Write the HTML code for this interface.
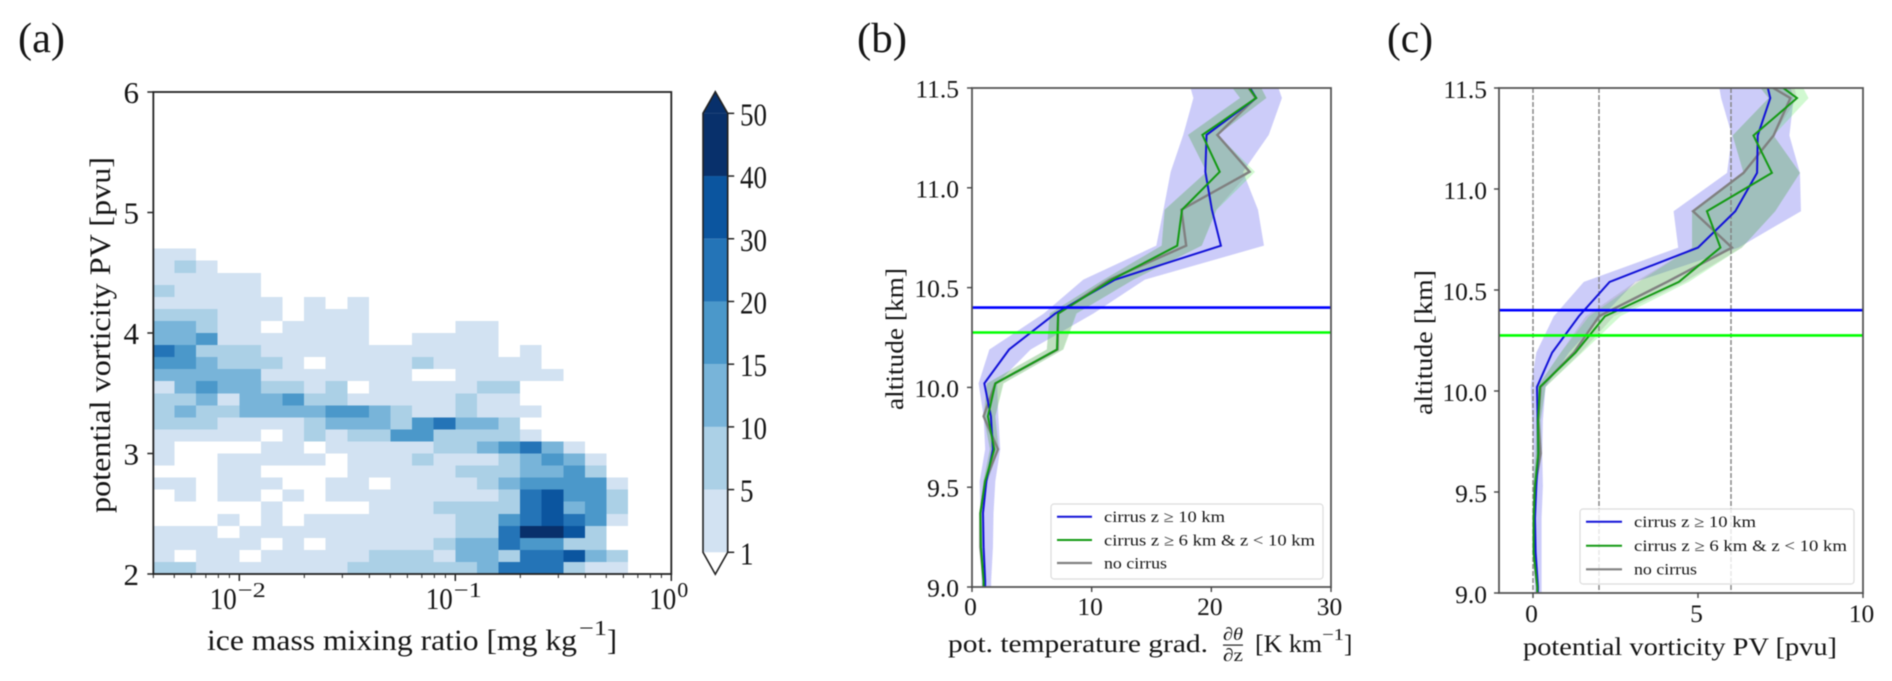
<!DOCTYPE html>
<html lang="en">
<head>
<meta charset="utf-8">
<title>Cirrus profiles</title>
<style>
html,body{margin:0;padding:0;background:#fff;width:1892px;height:681px;overflow:hidden}
svg{display:block;filter:blur(.45px)}
text{font-family:"Liberation Serif",serif;fill:#151515}
</style>
</head>
<body>
<svg id="fig" xmlns="http://www.w3.org/2000/svg" width="1892" height="681" viewBox="0 0 1892 681">
  <defs>
    <clipPath id="clip-b"><rect x="972" y="88" width="359" height="499"/></clipPath>
    <clipPath id="clip-c"><rect x="1499" y="88" width="364" height="505"/></clipPath>
  </defs>
  <text x="18" y="52" font-size="42" textLength="47" lengthAdjust="spacingAndGlyphs">(a)</text>
  <text x="857" y="52" font-size="42" textLength="50" lengthAdjust="spacingAndGlyphs">(b)</text>
  <text x="1387" y="52" font-size="42" textLength="46" lengthAdjust="spacingAndGlyphs">(c)</text>

  <g id="heatmap" shape-rendering="crispEdges"></g>
  <g id="axes-a"></g>
  <g id="colorbar"></g>

  <text transform="translate(110,513) rotate(-90)" font-size="30" textLength="356" lengthAdjust="spacingAndGlyphs">potential vorticity PV [pvu]</text>
  <g>
    <text x="207" y="650" font-size="30" textLength="370" lengthAdjust="spacingAndGlyphs">ice mass mixing ratio [mg kg</text>
    <text x="579" y="635" font-size="21" textLength="28" lengthAdjust="spacingAndGlyphs">−1</text>
    <text x="607" y="650" font-size="30">]</text>
  </g>

  <g id="plot-b" clip-path="url(#clip-b)"></g>
  <g id="axes-b"></g>
  <text transform="translate(903,410) rotate(-90)" font-size="25" textLength="142" lengthAdjust="spacingAndGlyphs">altitude [km]</text>
  <g>
    <text x="948" y="652" font-size="25" textLength="260" lengthAdjust="spacingAndGlyphs">pot. temperature grad.</text>
    <text x="1223" y="640" font-size="18" font-style="italic" textLength="20" lengthAdjust="spacingAndGlyphs">∂θ</text>
    <rect x="1223" y="644.5" width="20" height="1.2" fill="#222"/>
    <text x="1223" y="661" font-size="18" textLength="20" lengthAdjust="spacingAndGlyphs">∂z</text>
    <text x="1255" y="652" font-size="25" textLength="67" lengthAdjust="spacingAndGlyphs">[K km</text>
    <text x="1322" y="640" font-size="17" textLength="22" lengthAdjust="spacingAndGlyphs">−1</text>
    <text x="1344" y="652" font-size="25">]</text>
  </g>
  <g>
    <rect x="1051" y="504" width="272" height="75" rx="3" fill="#fff" fill-opacity=".8" stroke="#dcdcdc" stroke-width="1.2"/>
    <line x1="1057" x2="1092" y1="516.7" y2="516.7" stroke="#1212d8" stroke-width="2"/>
    <text x="1104" y="522" font-size="15.5" fill="#333" textLength="121" lengthAdjust="spacingAndGlyphs">cirrus z ≥ 10 km</text>
    <line x1="1057" x2="1092" y1="540" y2="540" stroke="#149a14" stroke-width="2"/>
    <text x="1104" y="545.5" font-size="15.5" fill="#333" textLength="211" lengthAdjust="spacingAndGlyphs">cirrus z ≥ 6 km &amp; z &lt; 10 km</text>
    <line x1="1057" x2="1092" y1="563" y2="563" stroke="#808080" stroke-width="2.2"/>
    <text x="1104" y="568.5" font-size="15.5" fill="#333" textLength="63" lengthAdjust="spacingAndGlyphs">no cirrus</text>
  </g>

  <g id="plot-c" clip-path="url(#clip-c)"></g>
  <g id="axes-c"></g>
  <text transform="translate(1432,415) rotate(-90)" font-size="25" textLength="145" lengthAdjust="spacingAndGlyphs">altitude [km]</text>
  <text x="1523" y="655" font-size="25" textLength="314" lengthAdjust="spacingAndGlyphs">potential vorticity PV [pvu]</text>
  <g>
    <rect x="1580" y="509" width="274" height="75" rx="3" fill="#fff" fill-opacity=".8" stroke="#dcdcdc" stroke-width="1.2"/>
    <line x1="1586" x2="1622" y1="521.7" y2="521.7" stroke="#1212d8" stroke-width="2"/>
    <text x="1634" y="527" font-size="15.5" fill="#333" textLength="122" lengthAdjust="spacingAndGlyphs">cirrus z ≥ 10 km</text>
    <line x1="1586" x2="1622" y1="545.7" y2="545.7" stroke="#149a14" stroke-width="2"/>
    <text x="1634" y="551" font-size="15.5" fill="#333" textLength="213" lengthAdjust="spacingAndGlyphs">cirrus z ≥ 6 km &amp; z &lt; 10 km</text>
    <line x1="1586" x2="1622" y1="569.3" y2="569.3" stroke="#808080" stroke-width="2.2"/>
    <text x="1634" y="574.5" font-size="15.5" fill="#333" textLength="63" lengthAdjust="spacingAndGlyphs">no cirrus</text>
  </g>
</svg>
<script>
/* ---------- panel (a) data ---------- */
const pvBinStart = 2.0;
const pvBinStep = 0.1;
const logIceBinStart = -2.4;
const logIceBinStep = 0.1;
/* counts per bin; first row is PV 2.0-2.1, columns run along log ice mass */
const counts = [
[7,7,3,3,3,3,3,3,3,7,7,7,7,7,7,12,25,25,25,7,3,3],
[3,0,3,3,0,3,3,3,3,3,7,7,7,3,12,12,7,25,25,35,12,7],
[3,3,3,3,3,0,3,0,3,3,3,3,3,7,12,12,25,17,17,7,7],
[3,3,3,0,3,3,3,3,3,3,3,3,3,3,7,7,25,45,45,35,7],
[0,0,0,3,0,3,0,3,3,3,3,3,3,3,7,7,17,25,35,25,17,3],
[0,0,0,0,0,3,0,0,0,0,3,3,3,7,7,7,7,25,35,12,17,7],
[0,3,0,3,3,0,3,0,3,3,3,3,3,3,3,3,7,25,35,17,17,7],
[3,3,0,3,3,3,0,0,3,3,0,3,3,3,3,7,12,17,17,17,17,3],
[0,0,0,3,3,0,0,0,0,3,3,3,3,3,7,7,7,12,12,17,7],
[3,0,0,3,3,3,3,3,0,3,3,3,7,3,3,3,7,12,17,12,3],
[3,0,0,0,0,3,3,0,3,3,3,3,3,7,7,12,17,25,12,3],
[3,3,3,3,3,0,3,7,3,7,7,17,17,7,7,7,7,3],
[7,7,7,3,3,3,3,7,12,12,12,7,17,25,12,12,7],
[7,12,7,7,12,12,12,12,17,17,12,7,3,3,7,3,3,3],
[7,7,12,3,12,12,17,7,7,3,3,3,3,3,7,3,3],
[3,12,17,12,12,7,7,3,7,0,3,3,3,3,3,7,7],
[12,12,12,12,12,3,3,3,3,3,3,3,0,0,3,3,3,3,3],
[17,17,12,7,7,7,3,0,3,3,3,3,7,3,3,3,3,3],
[25,17,7,7,7,3,3,3,3,3,3,3,3,3,3,3,0,3],
[12,12,17,3,3,3,3,3,3,3,0,0,3,3,3,3],
[12,12,7,3,3,0,3,3,3,3,0,0,0,0,3,3],
[7,7,7,3,3,3,0,3,3,3],
[3,3,3,3,3,3,0,3,0,3],
[7,3,3,3,3],
[3,3,3,3,3],
[3,7,3],
[3,3]
];
const colorBounds = [1,5,10,15,20,30,40,50];
const colorLevels = ['#d2e2f2','#abd0e6','#78b4d9','#4b98ca','#2474b7','#0b559f','#08306b'];
const pvTicks = [2,3,4,5,6];
const iceAxisMin = -2.398;
const iceMajorExponents = [-2,-1,0];
const iceMinorFactors = [2,3,4,5,6,7,8,9];
const iceMinorExponents = [-3,-2,-1];

/* ---------- panels (b,c) shared data ---------- */
const altitudes = [8.87,9.03,9.2,9.37,9.53,9.69,9.855,10.02,10.19,10.37,10.54,10.71,10.89,11.08,11.265,11.45,11.64];
const altTicks = [9,9.5,10,10.5,11,11.5];
const altTickLabels = ['9.0','9.5','10.0','10.5','11.0','11.5'];
const cirrusTopHigh = 10.4;
const cirrusTopLow = 10.275;

/* ---------- panel (b) data: potential temperature gradient ---------- */
const gradBlue = [1.1,1.1,.97,.92,1.2,1.75,1.58,1.03,3.1,6.95,11.95,20.8,20.05,19.5,19.6,23.75,21.8];
const gradGreen = [.97,.97,.75,.7,1.1,1.86,1.33,1.95,7.1,7.2,11.7,17.15,17.55,20.7,19.25,23.75,21.5];
const gradGray = [.97,.97,.7,.7,1.1,2.17,.97,1.95,7.15,7.2,11.5,17.9,17.5,23.2,20.5,23.7,21.5];
const gradBlueLow = [.8,.8,.7,.7,.64,1.1,.97,.55,1.45,6,9.3,15.4,16,16.6,17.65,18.5,17.6];
const gradBlueHigh = [1.6,1.6,1.75,1.8,1.95,2.36,2.2,2.1,4.9,10.15,14.45,24.4,23.9,22.65,24.8,25.9,24.8];
const gradGreenLow = [.9,.9,.7,.65,.95,1.5,1,1.25,6.25,6.5,11,15.85,16.1,19.6,18.05,22.4,20];
const gradGreenHigh = [1.1,1.1,.85,.8,1.3,2.2,1.95,2.65,7.65,8.75,13.5,19.2,20.45,23.65,20.55,24.6,23];
const gradGrayLow = [.9,.9,.68,.65,.95,1.5,.95,1.25,6.25,6.5,11,15.85,16.1,19.6,18.05,22.4,20];
const gradGrayHigh = [1.1,1.1,.85,.8,1.3,2.25,1.95,2.6,7.6,8.7,13.5,19.2,20.4,23.2,20.55,24.6,23];
const gradTicks = [0,10,20,30];

/* ---------- panel (c) data: potential vorticity ---------- */
const pvBlue = [.15,.15,.08,.06,.1,.16,.14,.12,.58,1.39,2.32,5,6.13,6.79,6.81,7.19,6.91];
const pvGreen = [.13,.13,.02,.02,.06,.16,.15,.21,1.29,2.18,4.42,5.68,5.27,7.24,6.68,8,6.42];
const pvGray = [.13,.13,.02,.02,.06,.23,.16,.23,1.24,2,4.06,6.03,4.85,6.38,7.29,7.8,5.83];
const pvBlueLow = [.05,.05,0,0,0,.03,-.02,-.07,.1,.63,1.54,4.4,4.26,5.88,6.03,5.7,5.5];
const pvBlueHigh = [.26,.26,.26,.26,.3,.28,.3,.38,1.09,2.1,3.1,6.23,8.12,8.09,7.77,7.9,7.54];
const pvGreenLow = [.1,.1,0,0,0,.08,.1,.13,.84,1.7,3.2,4.82,4.82,6.38,6.05,7.14,6.2];
const pvGreenHigh = [.16,.16,.05,.05,.1,.26,.23,.38,1.49,2.65,4.72,6.33,7.34,8.09,7.29,8.35,7.74];
const pvGrayLow = [.1,.1,0,0,0,.08,.1,.13,.84,1.6,3.1,4.82,4.82,6.38,6.05,7.14,6.2];
const pvGrayHigh = [.16,.16,.05,.05,.1,.28,.23,.38,1.45,2.45,4.6,6.33,7.34,8.09,7.29,8,7.7];
const pvAxisTicks = [0,5,10];
const pvReference = [0,2,6];

/* ---------- scales ---------- */
const iceX = l => 671.3 + l * 216;
const pvY = v => 574 - (v - 2) * 120.5;
const gradX = v => 972 + v * 359 / 30;
const altYb = a => 587 - (a - 9) * 499 / 2.5;
const pvX = v => 1533 + v * 33;
const altYc = a => 593 - (a - 9) * 505 / 2.5;
const cbarY = i => 552.3 - i * 62.71;

const NS = 'http://www.w3.org/2000/svg';
function make(tag, attrs, parent) {
  const e = document.createElementNS(NS, tag);
  for (const k in attrs) e.setAttribute(k, attrs[k]);
  parent.appendChild(e);
  return e;
}
function colorFor(v) {
  for (let i = colorLevels.length - 1; i >= 0; i--) if (v >= colorBounds[i]) return colorLevels[i];
  return null;
}

/* ---------- heatmap ---------- */
const heat = document.getElementById('heatmap');
counts.forEach((row, r) => {
  row.forEach((v, c) => {
    const col = colorFor(v);
    if (!col) return;
    const x0 = Math.max(iceX(iceAxisMin), iceX(logIceBinStart + c * logIceBinStep)), x1 = iceX(logIceBinStart + (c + 1) * logIceBinStep);
    const y1 = pvY(pvBinStart + r * pvBinStep), y0 = pvY(pvBinStart + (r + 1) * pvBinStep);
    const cell = make('rect', {x: x0, y: y0, width: x1 - x0, height: y1 - y0, fill: col}, heat);
    
    
  });
});

/* ---------- panel a axes ---------- */
const axA = document.getElementById('axes-a');
const frameA = make('rect', {x: iceX(iceAxisMin), y: pvY(6), width: iceX(0) - iceX(iceAxisMin), height: pvY(2) - pvY(6), fill: 'none', stroke: '#222', 'stroke-width': 1.8}, axA);


pvTicks.forEach(t => {
  const tick = make('line', {x1: iceX(iceAxisMin) - 6, x2: iceX(iceAxisMin), y1: pvY(t), y2: pvY(t), stroke: '#222', 'stroke-width': 1.5}, axA);
  
  
  const lab = make('text', {x: 139, y: pvY(t) + 11, 'text-anchor': 'end', 'font-size': 31}, axA);
  lab.textContent = t;
  
  
});
iceMajorExponents.forEach(ex => {
  const x = iceX(ex);
  const tick = make('line', {x1: x, x2: x, y1: 574, y2: 581, stroke: '#222', 'stroke-width': 1.5}, axA);
  
  
  const lab = make('text', {x: x - 29.5 + (ex === 0 ? 7.5 : 0), y: 609, 'font-size': 31, textLength: 27, lengthAdjust: 'spacingAndGlyphs'}, axA);
  lab.textContent = '10';
  
  
  const supAttrs = {x: x - 1.5 + (ex === 0 ? 7.5 : 0), y: 597, 'font-size': 21, textLength: ex === 0 ? 11 : 28, lengthAdjust: 'spacingAndGlyphs'};
  const sup = make('text', supAttrs, axA);
  sup.textContent = ex === 0 ? '0' : '−' + Math.abs(ex);
  
  
});
iceMinorExponents.forEach(ex => {
  iceMinorFactors.forEach(f => {
    const l = ex + Math.log10(f);
    if (l < iceAxisMin) return;
    const x = iceX(l);
    const tick = make('line', {x1: x, x2: x, y1: 574, y2: 578, stroke: '#222', 'stroke-width': 1}, axA);
    
    
  });
});

/* ---------- colorbar ---------- */
const cb = document.getElementById('colorbar');
const cbL = 703, cbR = 727.7, cbC = 715.3;
colorLevels.forEach((col, i) => {
  const seg = make('rect', {x: cbL, y: cbarY(i + 1), width: cbR - cbL, height: cbarY(i) - cbarY(i + 1), fill: col}, cb);
  
  
});
const capTop = make('polygon', {points: `${cbL},${cbarY(7)} ${cbC},91.7 ${cbR},${cbarY(7)}`, fill: '#08306b'}, cb);


const cbOutline = make('polygon', {points: `${cbL},${cbarY(7)} ${cbC},91.7 ${cbR},${cbarY(7)} ${cbR},${cbarY(0)} ${cbC},574.3 ${cbL},${cbarY(0)}`, fill: 'none', stroke: '#222', 'stroke-width': 1.6}, cb);


colorBounds.forEach((b, i) => {
  const y = cbarY(i);
  const tick = make('line', {x1: cbR, x2: cbR + 6.5, y1: y, y2: y, stroke: '#222', 'stroke-width': 1.5}, cb);
  
  
  const lab = make('text', {x: 740, y: y + 12, 'font-size': 32, textLength: String(b).length * 13.5, lengthAdjust: 'spacingAndGlyphs'}, cb);
  lab.textContent = b;
  
  
});

/* ---------- profile panels ---------- */
function pts(values, xs, ys) { return values.map((v, i) => xs(v) + ',' + ys(altitudes[i])).join(' '); }
function band(low, high, xs, ys, fill, op, parent, name) {
  const points = pts(high, xs, ys) + ' ' + low.map((v, i) => xs(v) + ',' + ys(altitudes[i])).reverse().join(' ');
  const p = make('polygon', {points: points, fill: fill, 'fill-opacity': op}, parent);
  
  
}
function profile(values, xs, ys, stroke, w, parent, name) {
  const p = make('polyline', {points: pts(values, xs, ys), fill: 'none', stroke: stroke, 'stroke-width': w, 'stroke-linejoin': 'miter'}, parent);
  
  
}
function hline(alt, xs0, xs1, ys, stroke, parent, name) {
  const l = make('line', {x1: xs0, x2: xs1, y1: ys(alt), y2: ys(alt), stroke: stroke, 'stroke-width': 2.6}, parent);
  
  
}
function axes(parent, L, R, ys, ticksX, xs, labelRight, baseOff, xLabelY, name) {
  const T = ys(11.5), B = ys(9);
  const f = make('rect', {x: L, y: T, width: R - L, height: B - T, fill: 'none', stroke: '#555', 'stroke-width': 1.8}, parent);
  
  
  altTicks.forEach((t, i) => {
    const tick = make('line', {x1: L - 5, x2: L, y1: ys(t), y2: ys(t), stroke: '#444', 'stroke-width': 1.4}, parent);
    
    
    const lab = make('text', {x: labelRight, y: ys(t) + baseOff, 'text-anchor': 'end', 'font-size': 25.5}, parent);
    lab.textContent = altTickLabels[i];
    
    
  });
  ticksX.forEach(t => {
    const tick = make('line', {x1: xs(t), x2: xs(t), y1: B, y2: B + 5, stroke: '#444', 'stroke-width': 1.4}, parent);
    
    
    const lab = make('text', {x: xs(t) - 1.5, y: xLabelY, 'text-anchor': 'middle', 'font-size': 25.5}, parent);
    lab.textContent = t;
    
    
  });
}

/* panel b */
const pb = document.getElementById('plot-b');
band(gradBlueLow, gradBlueHigh, gradX, altYb, '#0000e0', .2, pb, 'band-blue-b');
band(gradGreenLow, gradGreenHigh, gradX, altYb, '#00e000', .18, pb, 'band-green-b');
band(gradGrayLow, gradGrayHigh, gradX, altYb, '#808080', .22, pb, 'band-gray-b');
profile(gradGray, gradX, altYb, '#808080', 2.4, pb, 'line-gray-b');
profile(gradBlue, gradX, altYb, '#1212d8', 2, pb, 'line-blue-b');
profile(gradGreen, gradX, altYb, '#149a14', 2, pb, 'line-green-b');
hline(cirrusTopHigh, 972, 1331, altYb, '#0000ff', pb, 'hline-blue-b');
hline(cirrusTopLow, 972, 1331, altYb, '#00ff00', pb, 'hline-lime-b');
axes(document.getElementById('axes-b'), 972, 1331, altYb, gradTicks, gradX, 959, 9.5, 615, 'panel-b');

/* panel c */
const pc = document.getElementById('plot-c');
band(pvBlueLow, pvBlueHigh, pvX, altYc, '#0000e0', .2, pc, 'band-blue-c');
band(pvGreenLow, pvGreenHigh, pvX, altYc, '#00e000', .18, pc, 'band-green-c');
band(pvGrayLow, pvGrayHigh, pvX, altYc, '#808080', .22, pc, 'band-gray-c');
pvReference.forEach(v => {
  const l = make('line', {x1: pvX(v), x2: pvX(v), y1: 88, y2: 593, stroke: '#808080', 'stroke-width': 1.4, 'stroke-dasharray': '5 2'}, pc);
  
  
});
profile(pvGray, pvX, altYc, '#808080', 2.4, pc, 'line-gray-c');
profile(pvBlue, pvX, altYc, '#1212d8', 2, pc, 'line-blue-c');
profile(pvGreen, pvX, altYc, '#149a14', 2, pc, 'line-green-c');
hline(cirrusTopHigh, 1499, 1863, altYc, '#0000ff', pc, 'hline-blue-c');
hline(cirrusTopLow, 1499, 1863, altYc, '#00ff00', pc, 'hline-lime-c');
axes(document.getElementById('axes-c'), 1499, 1863, altYc, pvAxisTicks, pvX, 1487, 10, 622, 'panel-c');
</script>
</body>
</html>
